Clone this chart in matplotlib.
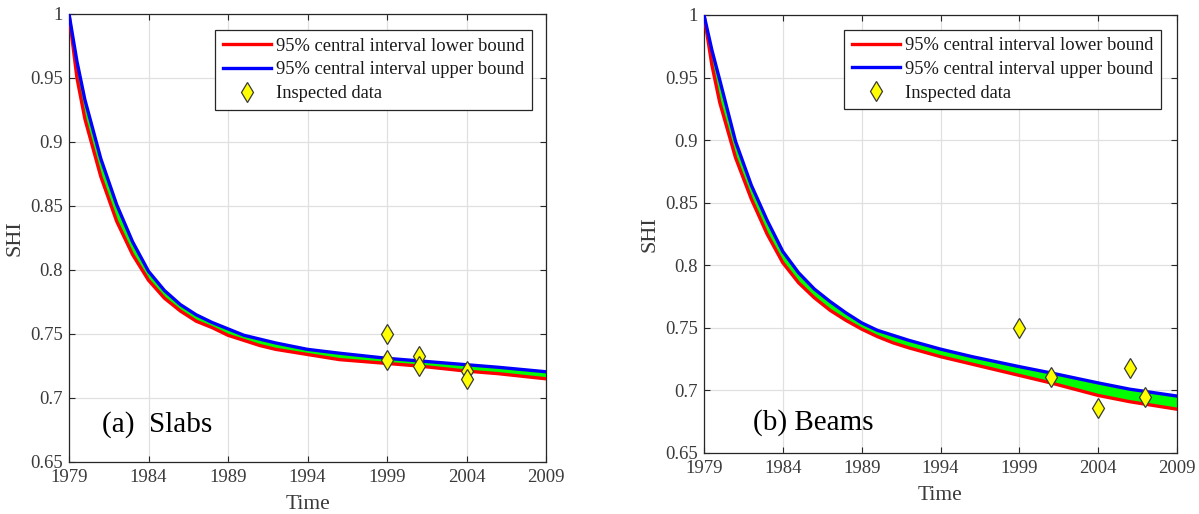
import matplotlib
matplotlib.use("Agg")
import matplotlib.pyplot as plt
from matplotlib.lines import Line2D

plt.rcParams['font.family'] = ['Liberation Serif', 'DejaVu Serif']

# ---------------- data ----------------
years = [1979, 1979.5, 1980, 1981, 1982, 1983, 1984, 1985, 1986, 1987, 1988, 1989,
         1990, 1991, 1992, 1994, 1996, 1999, 2001, 2004, 2006, 2009]

slabs_lower = [1.000, 0.950, 0.918, 0.873, 0.838, 0.812, 0.792, 0.778, 0.768, 0.760, 0.755, 0.749,
               0.745, 0.741, 0.738, 0.734, 0.730, 0.727, 0.725, 0.721, 0.719, 0.715]
slabs_upper = [1.000, 0.963, 0.933, 0.887, 0.851, 0.822, 0.799, 0.784, 0.773, 0.765, 0.759, 0.754,
               0.749, 0.746, 0.743, 0.738, 0.735, 0.731, 0.729, 0.726, 0.724, 0.7205]

beams_lower = [1.000, 0.960, 0.930, 0.886, 0.853, 0.825, 0.802, 0.786, 0.774, 0.764, 0.756, 0.749,
               0.743, 0.738, 0.734, 0.727, 0.721, 0.712, 0.706, 0.696, 0.691, 0.685]
beams_upper = [1.000, 0.972, 0.948, 0.899, 0.864, 0.836, 0.811, 0.794, 0.781, 0.771, 0.762, 0.754,
               0.748, 0.744, 0.740, 0.733, 0.727, 0.719, 0.714, 0.706, 0.701, 0.6955]

slabs_insp_years = [1999, 1999, 2001, 2001, 2004, 2004]
slabs_insp_values = [0.750, 0.730, 0.733, 0.725, 0.721, 0.715]

beams_insp_years = [1999, 2001, 2004, 2006, 2007]
beams_insp_values = [0.750, 0.711, 0.686, 0.718, 0.695]

x_ticks = [1979, 1984, 1989, 1994, 1999, 2004, 2009]
y_ticks = [0.65, 0.70, 0.75, 0.80, 0.85, 0.90, 0.95, 1.00]
y_tick_labels = ['0.65', '0.7', '0.75', '0.8', '0.85', '0.9', '0.95', '1']

legend_labels = ['95% central interval lower bound',
                 '95% central interval upper bound',
                 'Inspected data']

# ---------------- figure ----------------
W, H = 1199, 514
fig = plt.figure(figsize=(W / 100, H / 100), dpi=100)

def px_axes(x0, x1, y0, y1):
    return fig.add_axes([x0 / W, (H - y1) / H, (x1 - x0) / W, (y1 - y0) / H])

axL = px_axes(69, 546, 14, 462)
axR = px_axes(704, 1177, 15, 453)

tick_col = '#3a3a3a'
MS = 10.5

def style(ax, lower, upper, iy, iv, legend_anchor):
    ax.fill_between(years, lower, upper, color=(0, 1, 0), linewidth=0, zorder=2)
    ax.plot(years, lower, color=(1, 0, 0), lw=2.4, zorder=3, solid_joinstyle='round')
    ax.plot(years, upper, color=(0, 0, 1), lw=2.4, zorder=4, solid_joinstyle='round')
    ax.plot(iy, iv, linestyle='none', marker='d', markersize=MS,
            markerfacecolor=(1, 1, 0), markeredgecolor='#3a3a3a',
            markeredgewidth=0.9, zorder=5)
    ax.set_xlim(1979, 2009)
    ax.set_ylim(0.65, 1.0)
    ax.set_xticks(x_ticks)
    ax.set_xticklabels([str(v) for v in x_ticks])
    ax.set_yticks(y_ticks)
    ax.set_yticklabels(y_tick_labels)
    ax.grid(True, color='#e0e0e0', linewidth=0.9, zorder=0)
    ax.set_axisbelow(True)
    ax.tick_params(direction='in', length=4, width=0.8, colors='#262626',
                   labelcolor=tick_col, labelsize=13.5, top=True, right=True)
    ax.tick_params(axis='x', pad=4.8)
    ax.tick_params(axis='y', pad=4.3)
    for s in ax.spines.values():
        s.set_color('#262626')
        s.set_linewidth(0.9)
    handles = [Line2D([], [], color=(1, 0, 0), lw=2.4),
               Line2D([], [], color=(0, 0, 1), lw=2.4),
               Line2D([], [], linestyle='none', marker='d', markersize=MS,
                      markerfacecolor=(1, 1, 0), markeredgecolor='#3a3a3a',
                      markeredgewidth=0.9)]
    leg = ax.legend(handles, legend_labels, loc='upper right',
                    bbox_to_anchor=(legend_anchor[0] / W, 1 - legend_anchor[1] / H),
                    bbox_transform=fig.transFigure, borderaxespad=0,
                    fontsize=13.3, fancybox=False, framealpha=1,
                    edgecolor='#262626', handlelength=2.6, handletextpad=0.25,
                    labelspacing=0.36, borderpad=0.42)
    leg.get_frame().set_linewidth(0.9)
    for t in leg.get_texts():
        t.set_color('#1a1a1a')

style(axL, slabs_lower, slabs_upper, slabs_insp_years, slabs_insp_values, (532, 30))
style(axR, beams_lower, beams_upper, beams_insp_years, beams_insp_values, (1161, 29.5))

axL.text((101.7 - 69) / 477, (462 - 431.5) / 448, '(a)  Slabs', transform=axL.transAxes,
         fontsize=21, va='baseline', ha='left', color='black')
axR.text((752.7 - 704) / 473, (452.7 - 429) / 438, '(b) Beams', transform=axR.transAxes,
         fontsize=21, va='baseline', ha='left', color='black')

fig.text(307.5 / W, (H - 509) / H, 'Time', ha='center', va='baseline', fontsize=15.5, color=tick_col)
fig.text(940.5 / W, (H - 500) / H, 'Time', ha='center', va='baseline', fontsize=15.5, color=tick_col)
fig.text(15 / W, (H - 238.5) / H, 'SHI', ha='center', va='center', rotation=90, fontsize=16, color=tick_col)
fig.text(650 / W, (H - 234) / H, 'SHI', ha='center', va='center', rotation=90, fontsize=16, color=tick_col)

fig.savefig('out.png', dpi=100)
